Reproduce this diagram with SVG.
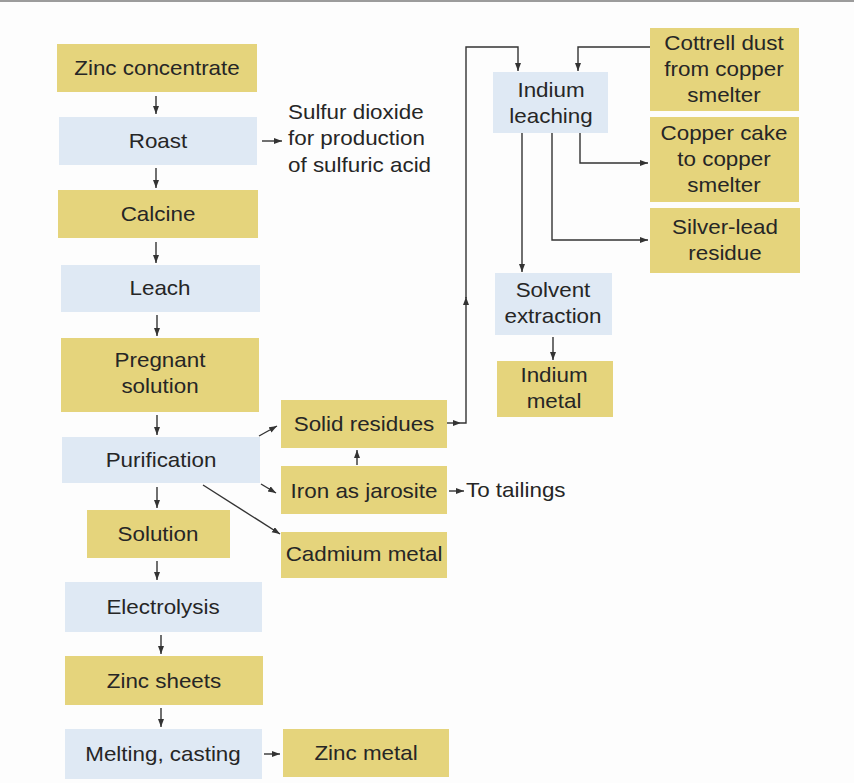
<svg xmlns="http://www.w3.org/2000/svg" width="854" height="783" viewBox="0 0 854 783">
<defs>
<style>
.y{fill:#e5d47c}
.b{fill:#dfe9f4}
text{font-family:"Liberation Sans",Arial,Helvetica,sans-serif;font-size:20px;fill:#262626;text-anchor:middle}
text.l{text-anchor:start}
.c{fill:none;stroke:#333;stroke-width:1.4}
.a{marker-end:url(#ah)}
</style>
<marker id="ah" markerUnits="userSpaceOnUse" markerWidth="9" markerHeight="7" refX="8" refY="3" orient="auto">
<path d="M0,0 L8,3 L0,6 z" fill="#333"/>
</marker>
</defs>
<rect x="0" y="0" width="854" height="783" fill="#fdfdfd"/>
<rect x="0" y="0" width="854" height="2" fill="#9c9c9c"/>

<g id="connectors">
<path class="c a" d="M156,96 V114"/>
<path class="c a" d="M156,168 V188"/>
<path class="c a" d="M156,242 V263"/>
<path class="c a" d="M157,315 V336"/>
<path class="c a" d="M157,415 V435"/>
<path class="c a" d="M157,487 V508"/>
<path class="c a" d="M157,561 V580"/>
<path class="c a" d="M161,635 V654"/>
<path class="c a" d="M161,708 V727"/>
<path class="c a" d="M264,754 H280"/>
<path class="c a" d="M262,141 H282"/>
<path class="c a" d="M259,436 L277,426"/>
<path class="c a" d="M261,484 L276,493"/>
<path class="c a" d="M203,485 L280,534"/>
<path class="c a" d="M357,465 V450"/>
<path class="c a" d="M449,491 H464"/>
<path class="c a" d="M447,423 H461"/>
<path class="c a" d="M461,423 H466 V297"/>
<path class="c a" d="M466,298 V47 H518 V71"/>
<path class="c a" d="M650,47 H578 V71"/>
<path class="c a" d="M580,133 V163 H648"/>
<path class="c a" d="M552,133 V240 H648"/>
<path class="c a" d="M522,133 V272"/>
<path class="c a" d="M553,337 V360"/>
</g>

<g id="zinc-concentrate"><rect class="y" x="57" y="44" width="200" height="48"/><text transform="translate(157 0) scale(1.12 1)" x="0" y="75">Zinc concentrate</text></g>
<g id="roast"><rect class="b" x="59" y="117" width="198" height="48"/><text transform="translate(158 0) scale(1.12 1)" x="0" y="148">Roast</text></g>
<g id="calcine"><rect class="y" x="58" y="190" width="200" height="48"/><text transform="translate(158 0) scale(1.12 1)" x="0" y="221">Calcine</text></g>
<g id="leach"><rect class="b" x="61" y="265" width="199" height="47"/><text transform="translate(160 0) scale(1.12 1)" x="0" y="295">Leach</text></g>
<g id="pregnant-solution"><rect class="y" x="61" y="338" width="198" height="74"/><text transform="translate(160 0) scale(1.12 1)"><tspan x="0" y="367">Pregnant</tspan><tspan x="0" y="393">solution</tspan></text></g>
<g id="purification"><rect class="b" x="62" y="437" width="198" height="46"/><text transform="translate(161 0) scale(1.12 1)" x="0" y="467">Purification</text></g>
<g id="solution"><rect class="y" x="87" y="510" width="143" height="48"/><text transform="translate(158 0) scale(1.12 1)" x="0" y="541">Solution</text></g>
<g id="electrolysis"><rect class="b" x="65" y="582" width="197" height="50"/><text transform="translate(163 0) scale(1.12 1)" x="0" y="614">Electrolysis</text></g>
<g id="zinc-sheets"><rect class="y" x="65" y="656" width="198" height="49"/><text transform="translate(164 0) scale(1.12 1)" x="0" y="688">Zinc sheets</text></g>
<g id="melting-casting"><rect class="b" x="65" y="729" width="197" height="50"/><text transform="translate(163 0) scale(1.12 1)" x="0" y="761">Melting, casting</text></g>
<g id="zinc-metal"><rect class="y" x="283" y="729" width="166" height="48"/><text transform="translate(366 0) scale(1.12 1)" x="0" y="760">Zinc metal</text></g>
<g id="sulfur-dioxide"><text class="l" transform="translate(288 0) scale(1.12 1)"><tspan x="0" y="119">Sulfur dioxide</tspan><tspan x="0" y="145.5">for production</tspan><tspan x="0" y="172">of sulfuric acid</tspan></text></g>
<g id="solid-residues"><rect class="y" x="281" y="400" width="166" height="48"/><text transform="translate(364 0) scale(1.12 1)" x="0" y="431">Solid residues</text></g>
<g id="iron-jarosite"><rect class="y" x="281" y="466" width="166" height="48"/><text transform="translate(364 0) scale(1.12 1)" x="0" y="498">Iron as jarosite</text></g>
<g id="cadmium-metal"><rect class="y" x="281" y="532" width="166" height="46"/><text transform="translate(364 0) scale(1.12 1)" x="0" y="561">Cadmium metal</text></g>
<g id="to-tailings"><text class="l" transform="translate(466 0) scale(1.12 1)" x="0" y="497">To tailings</text></g>
<g id="indium-leaching"><rect class="b" x="493" y="72" width="115" height="61"/><text transform="translate(551 0) scale(1.12 1)"><tspan x="0" y="97">Indium</tspan><tspan x="0" y="123">leaching</tspan></text></g>
<g id="cottrell-dust"><rect class="y" x="650" y="28" width="149" height="83"/><text transform="translate(724 0) scale(1.12 1)"><tspan x="0" y="50">Cottrell dust</tspan><tspan x="0" y="76">from copper</tspan><tspan x="0" y="102">smelter</tspan></text></g>
<g id="copper-cake"><rect class="y" x="650" y="117" width="149" height="85"/><text transform="translate(724 0) scale(1.12 1)"><tspan x="0" y="140">Copper cake</tspan><tspan x="0" y="166">to copper</tspan><tspan x="0" y="192">smelter</tspan></text></g>
<g id="silver-lead"><rect class="y" x="650" y="208" width="150" height="65"/><text transform="translate(725 0) scale(1.12 1)"><tspan x="0" y="234">Silver-lead</tspan><tspan x="0" y="260">residue</tspan></text></g>
<g id="solvent-extraction"><rect class="b" x="495" y="273" width="117" height="62"/><text transform="translate(553 0) scale(1.12 1)"><tspan x="0" y="297">Solvent</tspan><tspan x="0" y="323">extraction</tspan></text></g>
<g id="indium-metal"><rect class="y" x="497" y="361" width="116" height="56"/><text transform="translate(554 0) scale(1.12 1)"><tspan x="0" y="382">Indium</tspan><tspan x="0" y="408">metal</tspan></text></g>
</svg>
